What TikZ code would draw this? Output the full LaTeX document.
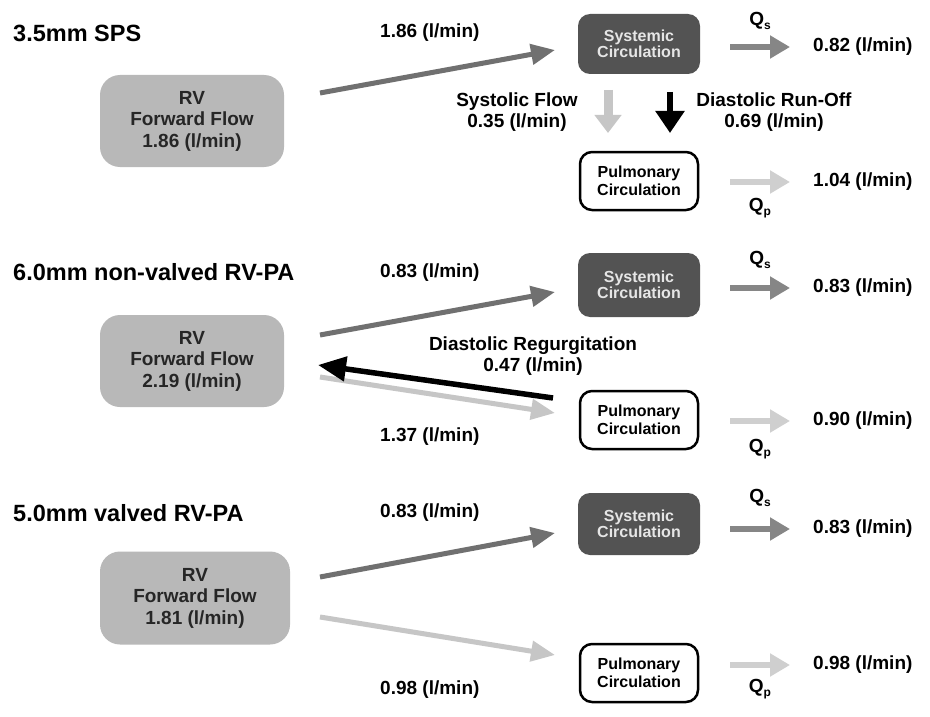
\documentclass[tikz,border=0pt]{standalone}
\usepackage{fontspec}
\setmainfont{Liberation Sans}
\usetikzlibrary{arrows.meta}
\definecolor{rvgray}{HTML}{B8B8B8}
\definecolor{sysgray}{HTML}{535353}
\definecolor{systext}{HTML}{E6E6E6}
\definecolor{dkarrow}{HTML}{707070}
\definecolor{ltarrow}{HTML}{C6C6C6}
\definecolor{qsarrow}{HTML}{868686}
\definecolor{qparrow}{HTML}{CFCFCF}
\begin{document}
\begin{tikzpicture}[x=1pt,y=-1pt,
  title/.style={font=\fontsize{23.5}{26}\selectfont\bfseries, anchor=west, inner sep=0pt},
  lbl/.style={font=\fontsize{19}{21}\selectfont\bfseries, inner sep=0pt},
  lblw/.style={lbl, anchor=west},
  clbl/.style={lbl, align=center},
  rvbox/.style={rounded corners=20pt, fill=rvgray, text=black!85, align=center,
    font=\fontsize{19}{21.5}\selectfont\bfseries, minimum width=184pt, minimum height=92pt, inner sep=0pt},
  sysbox/.style={rounded corners=12pt, fill=sysgray, text=systext, align=center,
    font=\fontsize{16}{16.5}\selectfont\bfseries, minimum width=122pt, minimum height=60pt, inner sep=0pt},
  pulbox/.style={rounded corners=12pt, draw=black, line width=2.5pt, fill=white, align=center,
    font=\fontsize{16}{17.5}\selectfont\bfseries, minimum width=118pt, minimum height=58pt, inner sep=0pt},
  qlbl/.style={font=\fontsize{19}{21}\selectfont\bfseries, inner sep=0pt},
  diag/.style={line width=5pt, -{Triangle[length=24pt,width=20pt]}},
  qarr/.style={line width=6pt, -{Triangle[length=20pt,width=22pt]}},
  regurg/.style={line width=5.5pt, black, -{Triangle[length=28pt,width=24pt]}},
  vlight/.style={line width=9pt, ltarrow, -{Triangle[length=18pt,width=26pt]}},
  vblack/.style={line width=6pt, black, -{Triangle[length=22pt,width=28pt]}}
]
\useasboundingbox[fill=white] (0,0) rectangle (930,717);

% ---------------- Section 1 ----------------
\node[title] (t1) at (13,33) {3.5mm SPS};
\node[rvbox] (rv1) at (192,121) {RV\\Forward Flow\\1.86 (l/min)};
\node[sysbox] (sys1) at (639,44) {Systemic\\Circulation};
\node[pulbox] (pul1) at (639,181) {Pulmonary\\Circulation};
\node[lblw] (l1a) at (380,33) {1.86 (l/min)};
\node[clbl] (l1sys) at (517,112) {Systolic Flow\\0.35 (l/min)};
\node[clbl] (l1dia) at (774,112) {Diastolic Run-Off\\0.69 (l/min)};
\node[qlbl] (qs1) at (760,21) {Q\raisebox{-0.35ex}{\fontsize{12}{12}\selectfont s}};
\node[qlbl] (qp1) at (760,208) {Q\raisebox{-0.35ex}{\fontsize{12}{12}\selectfont p}};
\node[lblw] (o1s) at (813,47) {0.82 (l/min)};
\node[lblw] (o1p) at (813,182) {1.04 (l/min)};
\coordinate (a1s) at (320,93);  \coordinate (a1e) at (555,50);
\coordinate (q1s) at (730,47);  \coordinate (q1e) at (790,47);
\coordinate (p1s) at (730,182); \coordinate (p1e) at (790,182);
\coordinate (v1s) at (608,90);  \coordinate (v1e) at (608,133);
\coordinate (v2s) at (670,92);  \coordinate (v2e) at (670,133);
\draw[diag, dkarrow] (a1s) -- (a1e);
\draw[qarr, qsarrow] (q1s) -- (q1e);
\draw[qarr, qparrow] (p1s) -- (p1e);
\draw[vlight] (v1s) -- (v1e);
\draw[vblack] (v2s) -- (v2e);

% ---------------- Section 2 ----------------
\node[title] (t2) at (13,272) {6.0mm non-valved RV-PA};
\node[rvbox] (rv2) at (192,361) {RV\\Forward Flow\\2.19 (l/min)};
\node[sysbox, minimum height=64pt] (sys2) at (639,285) {Systemic\\Circulation};
\node[pulbox] (pul2) at (639,420) {Pulmonary\\Circulation};
\node[lblw] (l2a) at (380,273) {0.83 (l/min)};
\node[lblw] (l2b) at (380,437) {1.37 (l/min)};
\node[clbl] (l2r) at (533,356) {Diastolic Regurgitation\\0.47 (l/min)};
\node[qlbl] (qs2) at (760,260) {Q\raisebox{-0.35ex}{\fontsize{12}{12}\selectfont s}};
\node[qlbl] (qp2) at (760,449) {Q\raisebox{-0.35ex}{\fontsize{12}{12}\selectfont p}};
\node[lblw] (o2s) at (813,288) {0.83 (l/min)};
\node[lblw] (o2p) at (813,421) {0.90 (l/min)};
\coordinate (a2s) at (320,335); \coordinate (a2e) at (555,292);
\coordinate (b2s) at (320,377); \coordinate (b2e) at (555,413);
\coordinate (r2s) at (553,398); \coordinate (r2e) at (318,365);
\coordinate (q2s) at (730,288); \coordinate (q2e) at (790,288);
\coordinate (p2s) at (730,421); \coordinate (p2e) at (790,421);
\draw[diag, dkarrow] (a2s) -- (a2e);
\draw[diag, ltarrow] (b2s) -- (b2e);
\draw[regurg] (r2s) -- (r2e);
\draw[qarr, qsarrow] (q2s) -- (q2e);
\draw[qarr, qparrow] (p2s) -- (p2e);

% ---------------- Section 3 ----------------
\node[title] (t3) at (13,513) {5.0mm valved RV-PA};
\node[rvbox, minimum width=190pt, minimum height=93pt] (rv3) at (195,598) {RV\\Forward Flow\\1.81 (l/min)};
\node[sysbox, minimum height=62pt] (sys3) at (639,524) {Systemic\\Circulation};
\node[pulbox] (pul3) at (639,673) {Pulmonary\\Circulation};
\node[lblw] (l3a) at (380,513) {0.83 (l/min)};
\node[lblw] (l3b) at (380,690) {0.98 (l/min)};
\node[qlbl] (qs3) at (760,498) {Q\raisebox{-0.35ex}{\fontsize{12}{12}\selectfont s}};
\node[qlbl] (qp3) at (760,689) {Q\raisebox{-0.35ex}{\fontsize{12}{12}\selectfont p}};
\node[lblw] (o3s) at (813,529) {0.83 (l/min)};
\node[lblw] (o3p) at (813,665) {0.98 (l/min)};
\coordinate (a3s) at (320,577); \coordinate (a3e) at (555,533);
\coordinate (b3s) at (320,617); \coordinate (b3e) at (555,655);
\coordinate (q3s) at (730,529); \coordinate (q3e) at (790,529);
\coordinate (p3s) at (730,665); \coordinate (p3e) at (790,665);
\draw[diag, dkarrow] (a3s) -- (a3e);
\draw[diag, ltarrow] (b3s) -- (b3e);
\draw[qarr, qsarrow] (q3s) -- (q3e);
\draw[qarr, qparrow] (p3s) -- (p3e);
\end{tikzpicture}
\end{document}
